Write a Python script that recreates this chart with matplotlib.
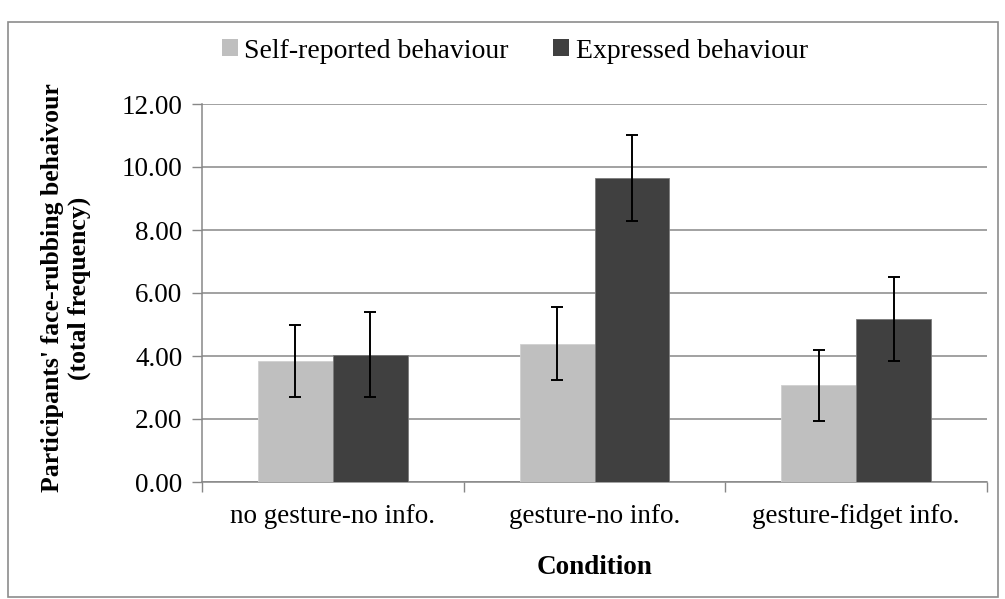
#!/usr/bin/env python3
"""
Face-rubbing behaviour by condition: self-reported vs expressed
"""

import numpy as np
import matplotlib
matplotlib.use('Agg')
import matplotlib.pyplot as plt
from matplotlib.patches import Rectangle, Patch

# Data
conditions = ['no gesture-no info.', 'gesture-no info.', 'gesture-fidget info.']
self_reported = [3.84, 4.39, 3.07]
self_reported_err = [1.13, 1.15, 1.13]
expressed = [4.04, 9.65, 5.18]
expressed_err = [1.35, 1.37, 1.34]
series_names = ['Self-reported behaviour', 'Expressed behaviour']
y_ticks = [0, 2, 4, 6, 8, 10, 12]

LIGHT = '#bfbfbf'
DARK = '#404040'
GRID = '#878787'

plt.rcParams['font.family'] = ['Liberation Serif', 'DejaVu Serif']

fig = plt.figure(figsize=(10.05, 5.99), dpi=100)
ax = fig.add_axes([202 / 1005, 1 - 482 / 599, 785 / 1005, 378 / 599])

x = np.arange(len(conditions))
width = 0.286

err_kw = dict(ecolor='black', elinewidth=1.4, capsize=4, capthick=1.4)
ax.bar(x - width / 2, self_reported, width, yerr=self_reported_err,
       color=LIGHT, edgecolor='#d0d0d0', linewidth=0.6, error_kw=err_kw, zorder=3)
ax.bar(x + width / 2, expressed, width, yerr=expressed_err,
       color=DARK, edgecolor='#7a7a7a', linewidth=0.6, error_kw=err_kw, zorder=3)

ax.set_xlim(-0.5, len(conditions) - 0.5)
ax.set_ylim(0, 12)
ax.set_yticks(y_ticks)
ax.set_yticklabels([f'{v:.2f}' for v in y_ticks], fontsize=19.5)
ax.set_xticks(x)
ax.set_xticklabels(conditions, fontsize=19.5)
ax.set_xticks(np.arange(len(conditions) + 1) - 0.5, minor=True)
ax.tick_params(axis='x', which='major', length=0, pad=16)
ax.tick_params(axis='x', which='minor', length=7, width=1, color=GRID)
ax.tick_params(axis='y', length=7, width=1, color=GRID, pad=7)

ax.grid(axis='y', color=GRID, linewidth=1.1, zorder=0)
ax.set_axisbelow(True)
for side in ['top', 'right']:
    ax.spines[side].set_visible(False)
for side in ['left', 'bottom']:
    ax.spines[side].set_color(GRID)
    ax.spines[side].set_linewidth(1.1)

fig.text(594 / 1005, 1 - 568 / 599, 'Condition', fontsize=19.5, fontweight='bold',
         ha='center', va='center')
fig.text(66 / 1005, 1 - 288 / 599,
         "Participants' face-rubbing behaivour\n(total frequency)",
         fontsize=18.5, fontweight='bold', rotation=90, ha='center', va='center',
         multialignment='center', linespacing=1.15)

handles = [Patch(facecolor=LIGHT, edgecolor='none'), Patch(facecolor=DARK, edgecolor='none')]
fig.legend(handles, series_names, loc='center', bbox_to_anchor=(515 / 1005, 1 - 51 / 599),
           ncol=2, frameon=False, fontsize=20, handlelength=0.55, handleheight=0.55,
           handletextpad=0.25, columnspacing=1.6, borderaxespad=0)

# outer chart border
fig.patches.append(Rectangle((8 / 1005, 2 / 599), 990 / 1005, 575 / 599,
                             transform=fig.transFigure, fill=False,
                             edgecolor='#8c8c8c', linewidth=1.2))

plt.savefig('out.png', dpi=100)
plt.close()
